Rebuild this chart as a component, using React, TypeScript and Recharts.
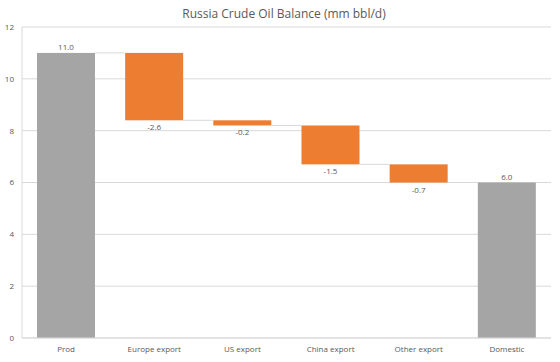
import { BarChart, Bar, XAxis, YAxis, CartesianGrid } from 'recharts'

const categories = ['Prod', 'Europe export', 'US export', 'China export', 'Other export', 'Domestic']
const values = [11.0, -2.6, -0.2, -1.5, -0.7, 6.0]
const isTotal = [true, false, false, false, false, true]
const yTicks = [0, 2, 4, 6, 8, 10, 12]

const ORANGE = '#ED7D31'
const GRAY = '#A5A5A5'
const TEXT = '#595959'
const FONT = '"Open Sans", "Noto Sans", sans-serif'

// build waterfall rows: invisible base + visible delta
let running = 0
const rows = categories.map((name, i) => {
  const v = values[i]
  let base = 0
  let delta = v
  if (isTotal[i]) {
    running = v
  } else {
    running = running + v
    base = running
    delta = -v
  }
  return { name, value: v, base, delta, idx: i }
})

const GAP_RATIO = 0.34 / 0.66

function WaterfallBar(props: any) {
  const { x, y, width, height, payload } = props
  const neg = payload.value < 0
  const fill = isTotal[payload.idx] ? GRAY : ORANGE
  const last = payload.idx === rows.length - 1
  const levelY = neg ? y + height : y
  const labelY = neg ? y + height + 10 : y - 3
  return (
    <g>
      <rect x={x} y={y} width={width} height={height} fill={fill} />
      {!last && (
        <line
          x1={x + width}
          x2={x + width + width * GAP_RATIO}
          y1={levelY}
          y2={levelY}
          stroke="#d9d9d9"
          strokeWidth={1}
        />
      )}
      <text x={x + width / 2} y={labelY} textAnchor="middle" fontSize={8} fill={TEXT} fontFamily={FONT}>
        {payload.value.toFixed(1)}
      </text>
    </g>
  )
}

export default function App() {
  return (
    <div style={{ position: 'fixed', left: 0, top: 0, width: 560, height: 362, background: '#fff' }}>
      <svg width={560} height={30} style={{ position: 'absolute', left: 0, top: 0 }}>
        <text x={284} y={18} textAnchor="middle" fontSize={12} fill={TEXT} fontFamily={FONT}>
          Russia Crude Oil Balance (mm bbl/d)
        </text>
      </svg>
      <BarChart
        width={560}
        height={362}
        data={rows}
        margin={{ top: 27, right: 9, left: 0, bottom: 0 }}
        barCategoryGap="17%"
      >
        <CartesianGrid vertical={false} stroke="#d9d9d9" />
        <XAxis
          dataKey="name"
          height={24}
          tickLine={false}
          axisLine={{ stroke: '#d9d9d9' }}
          tick={{ fontSize: 8, fill: TEXT, fontFamily: FONT }}
          interval={0}
        />
        <YAxis
          width={22}
          domain={[0, 12]}
          ticks={yTicks}
          tickLine={false}
          axisLine={{ stroke: '#d9d9d9' }}
          tick={{ fontSize: 8, fill: TEXT, fontFamily: FONT }}
        />
        <Bar dataKey="base" stackId="w" fill="transparent" isAnimationActive={false} />
        <Bar dataKey="delta" stackId="w" shape={<WaterfallBar />} isAnimationActive={false} />
      </BarChart>
    </div>
  )
}
